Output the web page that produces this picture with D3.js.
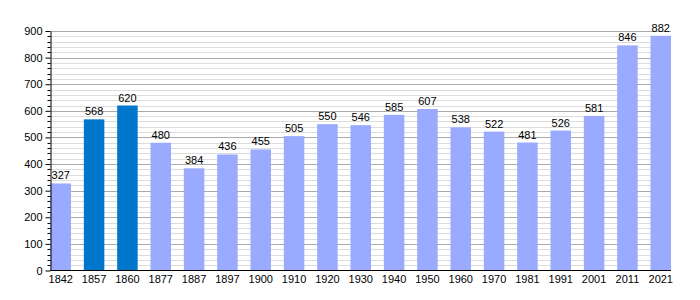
<!DOCTYPE html>
<html lang="en">
  <head>
    <meta charset="UTF-8" />
    <title>Population chart</title>
    <script src="https://d3js.org/d3.v7.min.js"></script>
    <style>
      body {
        margin: 0;
        background: white;
        font-family: "Liberation Sans", Arial, sans-serif;
      }
      .lbl {
        font-size: 11px;
        fill: #000;
      }
    </style>
  </head>
  <body>
    <div id="chart"></div>
    <script>
      const years = ["1842", "1857", "1860", "1877", "1887", "1897", "1900", "1910", "1920", "1930",
        "1940", "1950", "1960", "1970", "1981", "1991", "2001", "2011", "2021"];
      const population = [327, 568, 620, 480, 384, 436, 455, 505, 550, 546,
        585, 607, 538, 522, 481, 526, 581, 846, 882];
      // years drawn in the darker colour
      const highlighted = ["1857", "1860"];
      const yTicks = [0, 100, 200, 300, 400, 500, 600, 700, 800, 900];

      const W = 700, H = 300;
      const plot = { left: 50.5, right: 671, top: 31, bottom: 270.5 };

      const svg = d3.select("#chart").append("svg")
        .attr("width", W).attr("height", H);

      const x = d3.scaleBand().domain(years).range([plot.left, plot.right])
        .paddingInner(0.385).paddingOuter(0);
      const y = d3.scaleLinear().domain([0, 900]).range([plot.bottom, plot.top]);
      const py = (d) => Math.round(y(d)) + 0.5;

      // minor grid every 20
      const minor = d3.range(20, 901, 20).filter((v) => v % 100 !== 0);
      svg.append("g").selectAll("line").data(minor).join("line")
        .attr("x1", plot.left).attr("x2", plot.right)
        .attr("y1", py).attr("y2", py)
        .attr("stroke", "#dddddd");
      svg.append("g").selectAll("line").data(yTicks.slice(1)).join("line")
        .attr("x1", plot.left).attr("x2", plot.right)
        .attr("y1", py).attr("y2", py)
        .attr("stroke", "#aaaaaa");

      // bars
      svg.append("g").selectAll("rect").data(years).join("rect")
        .attr("x", (d) => x(d))
        .attr("width", x.bandwidth())
        .attr("y", (d, i) => y(population[i]))
        .attr("height", (d, i) => y(0) - y(population[i]))
        .attr("fill", (d) => highlighted.includes(d) ? "#0077cc" : "#99aaff");

      // value labels
      svg.append("g").selectAll("text").data(years).join("text")
        .attr("class", "lbl")
        .attr("x", (d) => x(d) + x.bandwidth() / 2)
        .attr("y", (d, i) => y(population[i]) - 4)
        .attr("text-anchor", "middle")
        .text((d, i) => population[i]);

      // y axis with minor ticks
      const yAxis = svg.append("g").attr("transform", `translate(${plot.left},0)`);
      yAxis.selectAll("line.minor").data(minor).join("line")
        .attr("x1", -3).attr("x2", 0)
        .attr("y1", py).attr("y2", py)
        .attr("stroke", "#000");
      yAxis.call(d3.axisLeft(y).tickValues(yTicks).tickSize(5).tickSizeOuter(0))
        .call((g) => g.selectAll("text").attr("class", "lbl").attr("font-family", null).attr("font-size", null))
        .call((g) => g.select(".domain").attr("stroke", "#000"));

      // x axis
      svg.append("g").attr("transform", `translate(0,${plot.bottom})`)
        .call(d3.axisBottom(x).tickSize(0).tickPadding(5).tickSizeOuter(0))
        .call((g) => g.selectAll("text").attr("class", "lbl").attr("font-family", null).attr("font-size", null))
        .call((g) => g.select(".domain").attr("stroke", "#000").attr("d", `M${plot.left},0H${plot.right}`));
    </script>
  </body>
</html>
